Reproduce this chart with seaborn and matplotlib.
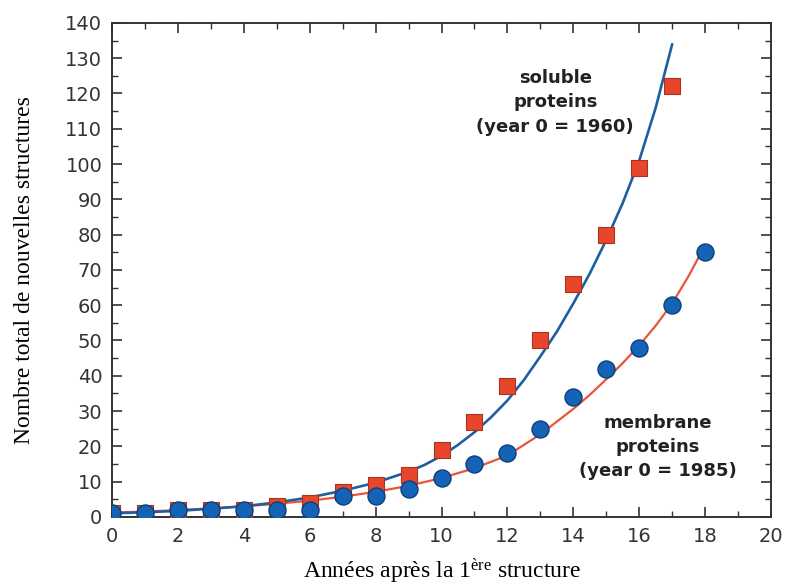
import matplotlib
matplotlib.use('Agg')
import matplotlib.pyplot as plt
import seaborn as sns
from matplotlib.ticker import MultipleLocator

# --- données ---
years_soluble = [0, 1, 2, 3, 4, 5, 6, 7, 8, 9, 10, 11, 12, 13, 14, 15, 16, 17]
soluble = [1, 1, 2, 2, 2, 3, 4, 7, 9, 12, 19, 27, 37, 50, 66, 80, 99, 122]

years_membrane = [0, 1, 2, 3, 4, 5, 6, 7, 8, 9, 10, 11, 12, 13, 14, 15, 16, 17, 18]
membrane = [1, 1, 2, 2, 2, 2, 2, 6, 6, 8, 11, 15, 18, 25, 34, 42, 48, 60, 75]

# courbes d'ajustement (valeurs lues le long des courbes)
fit_x_soluble = [0, 1, 2, 3, 4, 5, 6, 7, 8, 9, 9.5, 10, 10.5, 11, 11.5, 12, 12.5,
                 13, 13.5, 14, 14.5, 15, 15.5, 16, 16.5, 17]
fit_soluble = [1.0, 1.3, 1.7, 2.3, 3.0, 4.1, 5.5, 7.4, 9.7, 12.8, 14.8, 17.3, 20.4,
               24.0, 28.2, 33.0, 38.8, 45.5, 52.5, 60.5, 69.0, 78.5, 89.0, 101.0,
               116.0, 134.0]

fit_x_membrane = [0, 1, 2, 3, 4, 5, 6, 7, 8, 9, 10, 11, 12, 13, 14, 14.5, 15, 15.5,
                  16, 16.5, 17, 17.5, 18]
fit_membrane = [1.2, 1.5, 1.9, 2.4, 3.0, 3.7, 4.6, 5.7, 7.1, 8.8, 11.0, 13.8, 17.4,
                23.4, 30.6, 34.6, 39.0, 43.6, 48.6, 54.2, 60.5, 68.3, 77.0]

BLUE_LINE = '#1d5f9f'
RED_LINE = '#e8553a'
SQ_FILL = '#e8462b'
SQ_EDGE = '#a6341f'
CI_FILL = '#1463b4'
CI_EDGE = '#0c3f7c'

sns.set_style('ticks')
plt.rcParams.update({
    'font.family': ['DejaVu Sans'],
    'mathtext.fontset': 'custom',
    'mathtext.rm': 'Liberation Serif',
    'mathtext.it': 'Liberation Serif:italic',
    'axes.edgecolor': '#333333',
    'axes.linewidth': 1.4,
})

fig = plt.figure(figsize=(7.86, 5.88), dpi=100)
ax = fig.add_axes([0.1425, 0.121, 0.8385, 0.840])

sns.lineplot(x=fit_x_membrane, y=fit_membrane, color=RED_LINE, linewidth=1.6, ax=ax, zorder=2)
sns.lineplot(x=fit_x_soluble, y=fit_soluble, color=BLUE_LINE, linewidth=1.9, ax=ax, zorder=3)
sns.scatterplot(x=years_soluble, y=soluble, marker='s', s=120, color=SQ_FILL,
                edgecolor=SQ_EDGE, linewidth=0.8, ax=ax, zorder=4)
sns.scatterplot(x=years_membrane, y=membrane, marker='o', s=150, color=CI_FILL,
                edgecolor=CI_EDGE, linewidth=1.0, ax=ax, zorder=5)

ax.set_xlim(0, 20)
ax.set_ylim(0, 140)
ax.xaxis.set_major_locator(MultipleLocator(2))
ax.xaxis.set_minor_locator(MultipleLocator(1))
ax.yaxis.set_major_locator(MultipleLocator(10))
ax.yaxis.set_minor_locator(MultipleLocator(5))
ax.tick_params(which='both', direction='in', top=True, right=True,
               colors='#333333', labelcolor='#333333', labelsize=14)
ax.tick_params(which='major', length=7, width=1.2, pad=7)
ax.tick_params(which='minor', length=4, width=1.0)

ax.set_xlabel('Années après la 1$^{\\mathrm{ère}}$ structure', family='Liberation Serif',
              fontsize=17, labelpad=8, color='black')
ax.set_ylabel('Nombre total de nouvelles structures', family='Liberation Serif',
              fontsize=17, labelpad=22, color='black')

ax.text(13.45, 117.5, 'soluble\nproteins\n(year 0 = 1960)', ha='center', va='center',
        fontsize=13, fontweight='bold', color='#222222', linespacing=1.45)
ax.text(16.55, 19.8, 'membrane\nproteins\n(year 0 = 1985)', ha='center', va='center',
        fontsize=13, fontweight='bold', color='#222222', linespacing=1.45)

fig.savefig('out.png', dpi=100)
